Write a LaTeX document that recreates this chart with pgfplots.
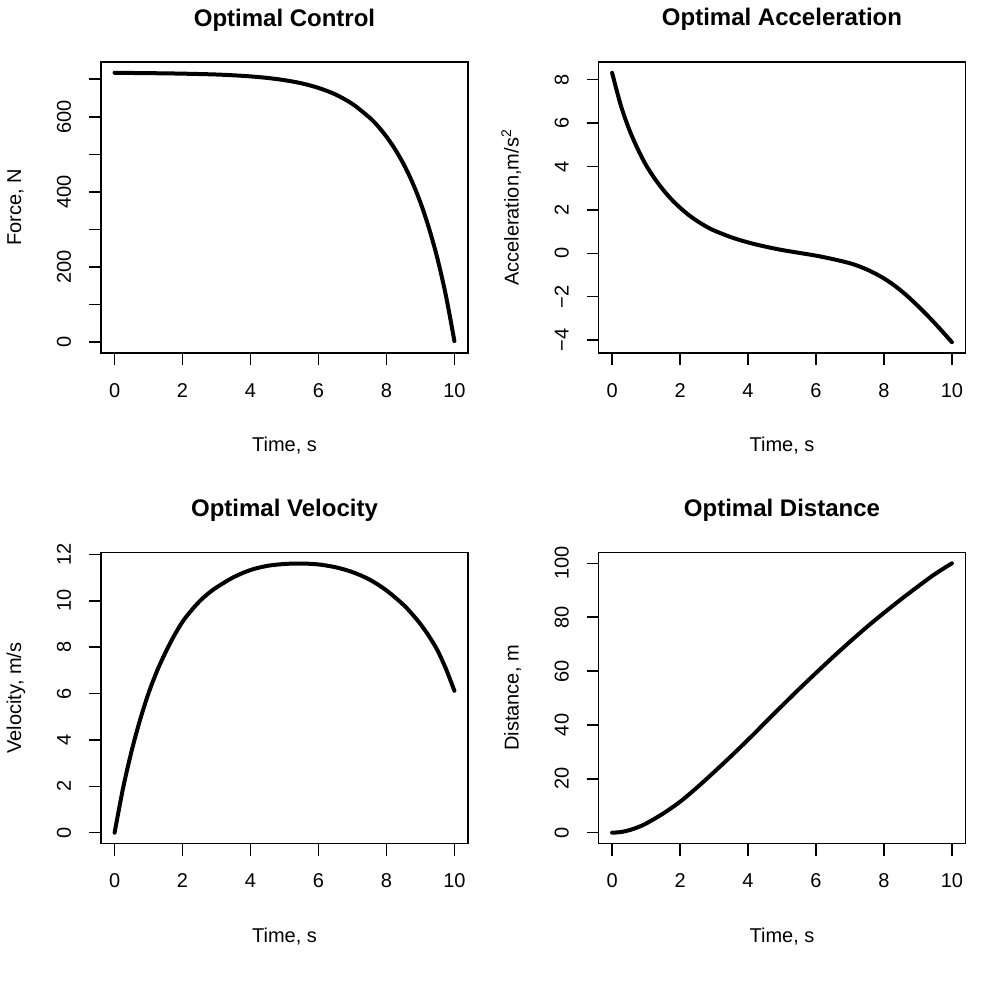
\documentclass[border=0pt]{standalone}
\usepackage{pgfplots}
\pgfplotsset{compat=1.18}
\usepackage{pgfplotstable}
\usepackage{fontspec}
\setmainfont{Liberation Sans}

\pgfplotstableread{
t F
0 717
0.5 716.5
1 716
1.5 715.5
2 714.7
2.5 713.7
3 712.4
3.5 710.3
4 707.4
4.5 703.3
5 697.4
5.5 689
6 676.8
6.5 659.3
7 634
7.5 598
7.75 575
8 547
8.25 514
8.5 475
8.75 428
9 372
9.25 304
9.5 223
9.75 124
10 3
}\forcetab

\pgfplotstableread{
t a
0 8.32
0.25 6.85
0.5 5.72
0.75 4.82
1 4.06
1.25 3.45
1.5 2.93
1.75 2.48
2 2.10
2.25 1.77
2.5 1.49
2.75 1.25
3 1.05
3.5 0.74
4 0.50
4.5 0.31
5 0.15
5.5 0.02
6 -0.11
6.5 -0.27
7 -0.46
7.25 -0.59
7.5 -0.75
7.75 -0.94
8 -1.16
8.25 -1.42
8.5 -1.72
8.75 -2.06
9 -2.43
9.25 -2.82
9.5 -3.23
9.75 -3.66
10 -4.10
}\acctab

\pgfplotstableread{
t v
0 0
0.25 1.93
0.5 3.52
0.75 4.87
1 6.02
1.25 6.98
1.5 7.78
1.75 8.49
2 9.10
2.25 9.57
2.5 9.98
2.75 10.31
3 10.58
3.5 11.02
4 11.33
4.5 11.51
5 11.59
5.5 11.61
6 11.57
6.5 11.45
7 11.24
7.5 10.92
8 10.45
8.5 9.83
8.75 9.44
9 9.00
9.25 8.48
9.5 7.87
9.75 7.07
10 6.12
}\veltab

\pgfplotstableread{
t x
0 0
0.25 0.24
0.5 0.92
0.75 2.0
1 3.4
1.5 7.1
2 11.5
2.5 16.8
3 22.5
3.5 28.4
4 34.5
4.5 40.8
5 47.1
5.5 53.3
6 59.3
6.5 65.2
7 70.9
7.5 76.4
8 81.6
8.5 86.6
9 91.4
9.5 96.0
10 100
}\disttab

\pgfplotsset{
  rplot/.style={
    scale only axis,
    width=183.5pt, height=145.5pt,
    xmin=-0.4, xmax=10.4,
    axis line style={line width=0.75pt, black},
    every tick/.style={line width=0.75pt, black},
    tick align=outside,
    major tick length=6pt,
    xtick pos=left, ytick pos=left,
    xtick={0,2,4,6,8,10},
    xticklabels={0,2,4,6,8,10},
    font=\fontsize{10}{12}\selectfont,
    xticklabel style={anchor=north, inner sep=0pt},
    xticklabel shift=9pt,
    yticklabel style={rotate=90, anchor=base, inner sep=0pt},
    yticklabel shift=9pt,
    every axis title/.style={at={(0.5,1)}, anchor=base, yshift=18pt,
      font=\bfseries\fontsize{12}{14}\selectfont},
    every axis x label/.style={at={(0.5,0)}, anchor=north, yshift=-42pt, inner sep=0pt},
    every axis y label/.style={at={(0,0.5)}, xshift=-40pt, rotate=90, anchor=base, inner sep=0pt},
    xlabel={Time, s},
    clip=false,
  },
  rcurve/.style={black, line width=2pt, line cap=round, line join=round, mark=none, smooth, tension=0.5},
}

\begin{document}
\begin{tikzpicture}
\useasboundingbox (0,0) rectangle (497.5pt,490.5pt);

\begin{axis}[rplot, at={(50.5pt,314pt)}, anchor=south west,
  title={Optimal Control}, ylabel={Force, N},
  ymin=-28.7, ymax=745.7,
  ytick={0,100,200,300,400,500,600,700},
  yticklabels={0,,200,,400,,600,}]
\addplot[rcurve] table[x=t, y=F] {\forcetab};
\end{axis}

\begin{axis}[rplot, at={(299.25pt,314pt)}, anchor=south west,
  title={Optimal Acceleration}, ylabel={Acceleration,m/s\textsuperscript{2}},
  ymin=-4.597, ymax=8.817,
  ytick={-4,-2,0,2,4,6,8},
  yticklabels={−4,−2,0,2,4,6,8}]
\addplot[rcurve] table[x=t, y=a] {\acctab};
\end{axis}

\begin{axis}[rplot, at={(50.5pt,68.75pt)}, anchor=south west,
  title={Optimal Velocity}, ylabel={Velocity, m/s},
  ymin=-0.465, ymax=12.085,
  ytick={0,2,4,6,8,10,12},
  yticklabels={0,2,4,6,8,10,12}]
\addplot[rcurve] table[x=t, y=v] {\veltab};
\end{axis}

\begin{axis}[rplot, at={(299.25pt,68.75pt)}, anchor=south west,
  title={Optimal Distance}, ylabel={Distance, m},
  ymin=-4, ymax=104,
  ytick={0,20,40,60,80,100},
  yticklabels={0,20,40,60,80,100}]
\addplot[rcurve] table[x=t, y=x] {\disttab};
\end{axis}
\end{tikzpicture}
\end{document}
